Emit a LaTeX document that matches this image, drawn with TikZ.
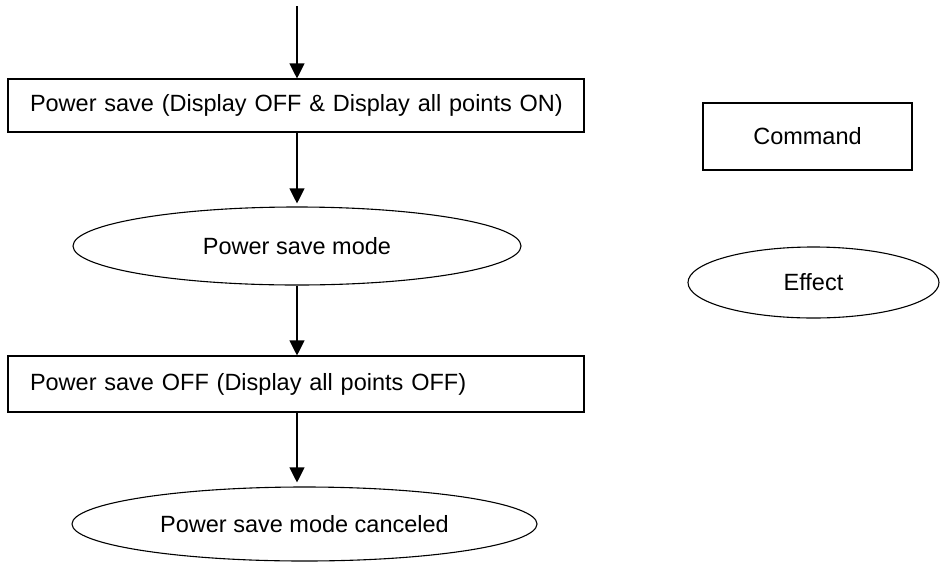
\documentclass[tikz,border=0pt]{standalone}
\usepackage{fontspec}
\setmainfont{Liberation Sans}
\usetikzlibrary{shapes.geometric,arrows.meta}

\tikzset{
    command/.style={draw, rectangle, line width=1.1pt, minimum height=53pt, text width=532pt, inner xsep=22pt, align=left},
    effect/.style={draw, ellipse, line width=1.1pt, inner sep=0pt},
    flow/.style={-{Triangle[width=15pt,length=15pt]}, line width=1.1pt}
}

\begin{document}
\begin{tikzpicture}[x=1pt, y=-1pt, font=\fontsize{23.5}{28}\selectfont]
    \useasboundingbox (0,0) rectangle (940,563);

    % Flow
    \coordinate (start) at (297,6);
    \node[command] (saveon) at (296,105.5) {\mbox{Power save (Display OFF \& Display all points ON)}};
    \node[effect, minimum width=448pt, minimum height=78pt] (savemode) at (297,246) {Power save mode};
    \node[command, minimum height=56pt] (saveoff) at (296,384) {\mbox{Power save OFF (Display all points OFF)}};
    \node[effect, minimum width=465pt, minimum height=74pt] (canceled) at (304.5,524) {Power save mode canceled};

    \draw[flow] (start) -- (start |- saveon.north);
    \draw[flow, shorten >=3pt] (start |- saveon.south) -- (start |- savemode.north);
    \draw[flow] (start |- savemode.south) -- (start |- saveoff.north);
    \draw[flow, shorten >=4pt] (start |- saveoff.south) -- (start |- canceled.north);

    % Legend
    \node[draw, rectangle, line width=1.1pt, minimum width=209pt, minimum height=67pt] (cmdkey) at (807.5,136.5) {Command};
    \node[effect, minimum width=251pt, minimum height=71pt] (effkey) at (813.5,282.5) {Effect};
\end{tikzpicture}
\end{document}
